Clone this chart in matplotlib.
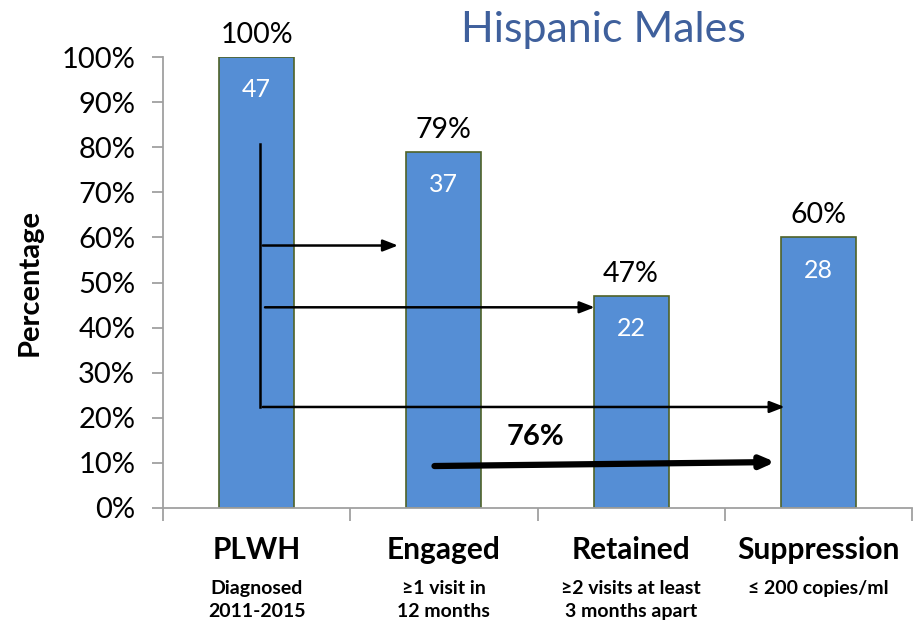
import numpy as np
import matplotlib.pyplot as plt
from matplotlib.ticker import FixedLocator, NullFormatter

plt.rcParams['font.family'] = ['Lato', 'DejaVu Sans']

# 数据
categories = ["PLWH", "Engaged", "Retained", "Suppression"]
sublabels = ["Diagnosed\n2011-2015", "≥1 visit in\n12 months",
             "≥2 visits at least\n3 months apart", "≤ 200 copies/ml"]
percent = [100, 79, 47, 60]
counts = [47, 37, 22, 28]
overall_label = "76%"

fig = plt.figure(figsize=(9.19, 6.23), dpi=100)
ax = fig.add_axes([163 / 919, 1 - 508 / 623, (912 - 163) / 919, (508 - 57) / 623])

x = np.arange(len(categories))
ax.bar(x, percent, width=0.4, color="#558ED5", edgecolor="#4F6228", linewidth=1.2, zorder=2)

ax.set_xlim(-0.5, 3.5)
ax.set_ylim(0, 100)
ax.set_yticks(range(0, 101, 10))
ax.set_yticklabels([f"{v}%" for v in range(0, 101, 10)], fontsize=21)
ax.xaxis.set_major_locator(FixedLocator([-0.5, 0.5, 1.5, 2.5, 3.5]))
ax.xaxis.set_major_formatter(NullFormatter())
ax.tick_params(axis='y', length=8, color="#A0A0A0", width=1.3, pad=12)
ax.tick_params(axis='x', length=9, color="#A0A0A0", width=1.3)
for s in ["top", "right"]:
    ax.spines[s].set_visible(False)
for s in ["left", "bottom"]:
    ax.spines[s].set_color("#A0A0A0")
    ax.spines[s].set_linewidth(1.3)

# 柱顶百分比与柱内人数
for xi, p, c in zip(x, percent, counts):
    ax.text(xi, p + 2.0, f"{p}%", ha="center", va="bottom", fontsize=20.5)
    ax.text(xi, p - 7.3, str(c), ha="center", va="center", fontsize=18, color="white")

# 分类标签
for xi, cat, sub in zip(x, categories, sublabels):
    ax.text(xi, -6.3, cat, ha="center", va="top", fontsize=21.5, fontweight="bold")
    ax.text(xi, -16.0, sub, ha="center", va="top", fontsize=14, fontweight="bold",
            linespacing=1.45)

ax.set_ylabel("Percentage", fontsize=21, fontweight="bold")
ax.yaxis.set_label_coords(-120 / 749, 0.5)
fig.text(603 / 919, 1 - 30 / 623, "Hispanic Males", ha="center", va="center",
         fontsize=31, color="#3F609C")

# 箭头
ax.plot([0.018, 0.018], [80.7, 22.4], color="black", lw=1.8, zorder=3)
arrow_kw = dict(arrowstyle="-|>,head_length=0.9,head_width=0.35", color="black", lw=1.8)
ax.annotate("", xy=(0.77, 58.2), xytext=(0.018, 58.2), arrowprops=arrow_kw, zorder=3)
ax.annotate("", xy=(1.82, 44.5), xytext=(0.03, 44.5), arrowprops=arrow_kw, zorder=3)
ax.annotate("", xy=(2.835, 22.4), xytext=(0.018, 22.4), arrowprops=arrow_kw, zorder=3)
ax.annotate("", xy=(2.785, 10.2), xytext=(0.935, 9.3),
            arrowprops=dict(arrowstyle="-|>,head_length=0.8,head_width=0.35",
                            color="black", lw=4.5), zorder=3)
ax.text(1.49, 15.8, overall_label, ha="center", va="center", fontsize=21, fontweight="bold")

fig.savefig("out.png", dpi=100)
